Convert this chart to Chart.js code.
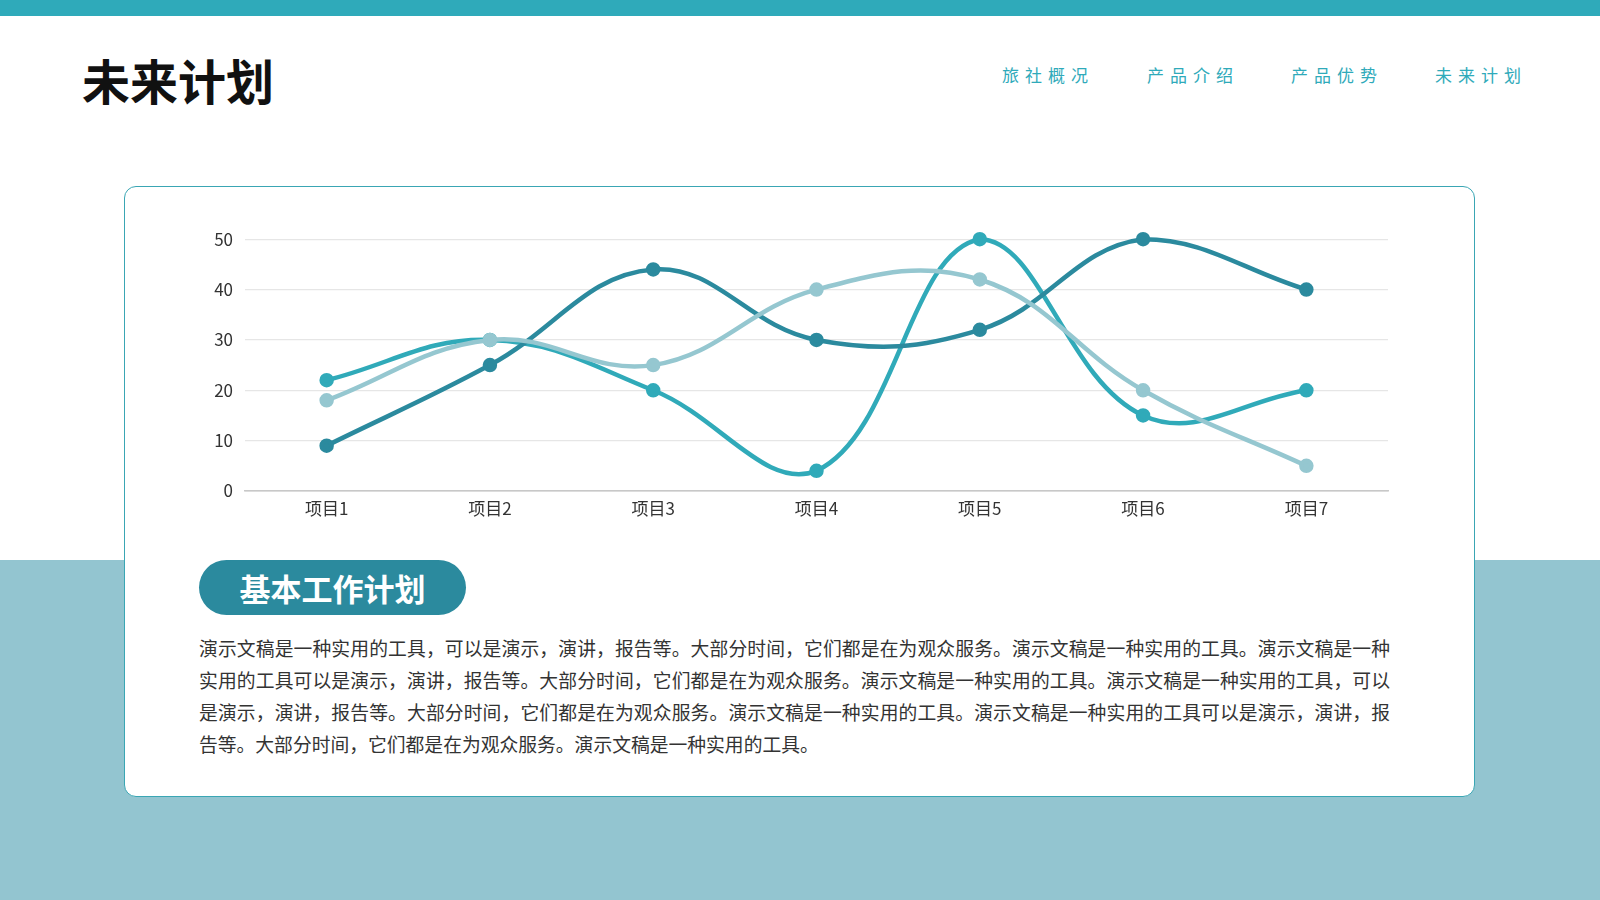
<!DOCTYPE html>
<html lang="zh">
<head>
    <meta charset="UTF-8">
    <title>未来计划</title>
    <script src="https://cdn.jsdelivr.net/npm/chart.js"></script>
    <style>
        body {
            margin: 0;
            width: 1600px;
            height: 900px;
            overflow: hidden;
            position: relative;
            background: #fff;
            font-family: "Noto Sans CJK SC", "Noto Sans", sans-serif;
        }
        .topbar {
            position: absolute;
            left: 0; top: 0;
            width: 1600px; height: 16px;
            background: #2faaba;
        }
        .band {
            position: absolute;
            left: 0; top: 560px;
            width: 1600px; height: 340px;
            background: #93c5d0;
        }
        h1 {
            position: absolute;
            left: 82px; top: 47px;
            margin: 0;
            font-size: 48px;
            line-height: 64px;
            font-weight: 700;
            color: #111;
        }
        .nav {
            position: absolute;
            top: 63px;
            font-size: 17px;
            line-height: 24px;
            letter-spacing: 6px;
            color: #2faaba;
        }
        .card {
            position: absolute;
            left: 124px; top: 186px;
            width: 1349px; height: 609px;
            background: #fff;
            border: 1.5px solid #3aa6b4;
            border-radius: 12px;
        }
        .chart-box {
            position: absolute;
            left: 200px; top: 217px;
            width: 1200px; height: 308px;
        }
        .pill {
            position: absolute;
            left: 199px; top: 560px;
            width: 267px; height: 55px;
            border-radius: 28px;
            background: #2b8a9e;
            color: #fff;
            font-size: 31px;
            font-weight: 700;
            line-height: 55px;
            text-align: center;
        }
        .text {
            position: absolute;
            left: 199px; top: 632px;
            width: 1191px;
            font-size: 18.8px;
            line-height: 32px;
            color: #333;
        }
        .text div {
            text-align: justify;
            text-align-last: justify;
            white-space: nowrap;
        }
        .text div.last {
            text-align-last: left;
        }
    </style>
</head>
<body>
    <div class="topbar"></div>
    <div class="band"></div>
    <h1>未来计划</h1>
    <div class="nav" style="left:1002px">旅社概况</div>
    <div class="nav" style="left:1147px">产品介绍</div>
    <div class="nav" style="left:1291px">产品优势</div>
    <div class="nav" style="left:1435px">未来计划</div>

    <div class="card"></div>
    <div class="chart-box"><canvas id="lineChart"></canvas></div>
    <div class="pill">基本工作计划</div>
    <div class="text">
        <div>演示文稿是一种实用的工具，可以是演示，演讲，报告等。大部分时间，它们都是在为观众服务。演示文稿是一种实用的工具。演示文稿是一种</div>
        <div>实用的工具可以是演示，演讲，报告等。大部分时间，它们都是在为观众服务。演示文稿是一种实用的工具。演示文稿是一种实用的工具，可以</div>
        <div>是演示，演讲，报告等。大部分时间，它们都是在为观众服务。演示文稿是一种实用的工具。演示文稿是一种实用的工具可以是演示，演讲，报</div>
        <div class="last">告等。大部分时间，它们都是在为观众服务。演示文稿是一种实用的工具。</div>
    </div>

    <script>
        const categories = ["项目1", "项目2", "项目3", "项目4", "项目5", "项目6", "项目7"];
        const seriesDark = [9, 25, 44, 30, 32, 50, 40];
        const seriesMid = [22, 30, 20, 4, 50, 15, 20];
        const seriesLight = [18, 30, 25, 40, 42, 20, 5];
        const yTicks = [0, 10, 20, 30, 40, 50];

        const fontFamily = '"Noto Sans CJK SC", "Noto Sans", sans-serif';

        function makeSet(label, data, color) {
            return {
                label: label,
                data: data,
                borderColor: color,
                backgroundColor: color,
                pointBackgroundColor: color,
                pointBorderColor: color,
                borderWidth: 4.5,
                pointRadius: 5,
                tension: 0.4,
                fill: false,
                clip: false
            };
        }

        new Chart(document.getElementById("lineChart"), {
            type: "line",
            data: {
                labels: categories,
                datasets: [
                    makeSet("系列3", seriesLight, "#95c7d0"),
                    makeSet("系列1", seriesDark, "#2b8a9e"),
                    makeSet("系列2", seriesMid, "#30aab9")
                ]
            },
            options: {
                responsive: true,
                maintainAspectRatio: false,
                animation: false,
                layout: { padding: { top: 6, right: 12, left: 0, bottom: 0 } },
                plugins: {
                    legend: { display: false },
                    tooltip: { enabled: false }
                },
                scales: {
                    x: {
                        offset: true,
                        grid: { display: false, drawTicks: false },
                        border: { color: "#c8c8c8", width: 1.5 },
                        ticks: {
                            padding: 7,
                            color: "#333",
                            font: { family: fontFamily, size: 17 }
                        },
                        afterFit: scale => { scale.height = 34; }
                    },
                    y: {
                        min: 0,
                        max: 50,
                        afterBuildTicks: scale => {
                            scale.ticks = yTicks.map(v => ({ value: v }));
                        },
                        grid: {
                            color: ctx => ctx.tick && ctx.tick.value === 0 ? "#c8c8c8" : "#e6e6e6",
                            lineWidth: 1.2,
                            drawTicks: false
                        },
                        border: { display: false },
                        ticks: {
                            padding: 12,
                            color: "#333",
                            font: { family: fontFamily, size: 17 }
                        },
                        afterFit: scale => { scale.width = 45; }
                    }
                }
            }
        });
    </script>
</body>
</html>
